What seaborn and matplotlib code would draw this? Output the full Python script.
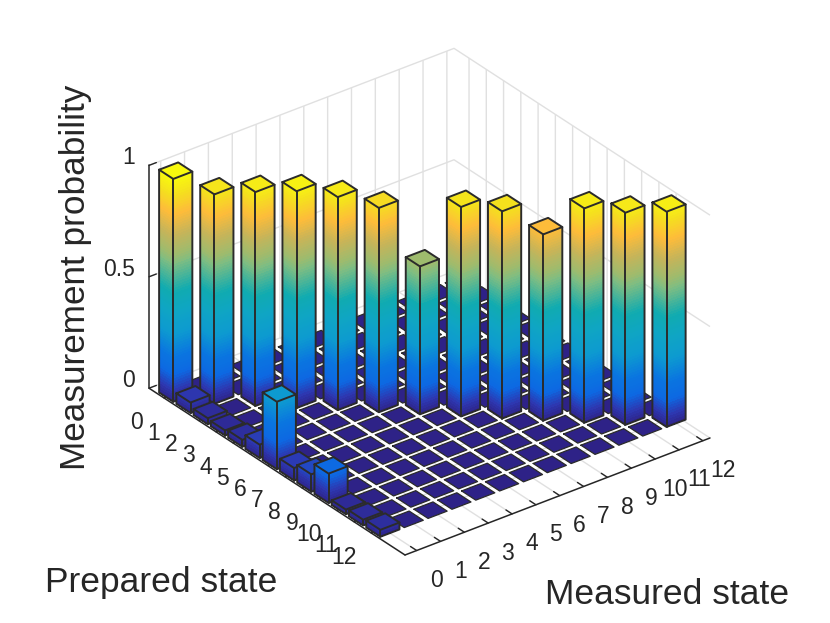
import numpy as np
import matplotlib
matplotlib.use("Agg")
import matplotlib.pyplot as plt
from matplotlib.colors import LinearSegmentedColormap
from mpl_toolkits.mplot3d import proj3d
from mpl_toolkits.mplot3d.art3d import Poly3DCollection
import seaborn as sns

states = list(range(13))
diagonal = [1.0, 0.94, 0.96, 0.973, 0.956, 0.917, 0.664, 0.94, 0.93, 0.836, 0.962, 0.952, 0.966]
measured_zero = [1.0, 0.047, 0.027, 0.023, 0.031, 0.06, 0.303, 0.056, 0.078, 0.132, 0.021, 0.026, 0.031]
z_ticks = [0, 0.5, 1]
z_tick_labels = ["0", "0.5", "1"]
parula_pos = [0, .05, .12, .2, .3, .4, .49, .62, .66, .75, .84, .93, 1]
parula_hex = ["#2E2287", "#2D37B0", "#0D68E2", "#0A75E0", "#0D9AD0", "#0FA5C4", "#10ABB0",
              "#7FBD82", "#9DBB6E", "#C8B458", "#FDBC3A", "#F5E01E", "#F8F90E"]

sns.set_theme(style="white", rc={"font.family": ["Liberation Sans", "DejaVu Sans"]})
plt.rcParams["font.family"] = ["Liberation Sans", "DejaVu Sans"]
INK = "#262626"
cmap = LinearSegmentedColormap.from_list("parula_like", list(zip(parula_pos, parula_hex)))

heights = np.zeros((13, 13))
heights[:, 0] = measured_zero
heights[states, states] = diagonal

XMIN, XMAX, YMIN, YMAX = -0.49, 12.3, -0.87, 13.96

fig = plt.figure(figsize=(8.3, 6.23), dpi=100)
side = 623 / 830
ax = fig.add_axes([0, 0, side, 1], projection="3d", proj_type="ortho", computed_zorder=False)
ax.view_init(elev=30, azim=-127.5)
ax.set_xlim(XMIN, XMAX, view_margin=0)
ax.set_ylim(YMAX, YMIN, view_margin=0)
ax.set_zlim(0, 1, view_margin=0)
aspect = (384, 420, 257)
ax.set_box_aspect(aspect, zoom=1)


def px(x, y, z):
    X, Y, _ = proj3d.proj_transform(x, y, z, ax.get_proj())
    return ax.transData.transform((X, Y))


# scale and place the box so that its floor corners land where the reference has them
ax.apply_aspect()
span = (px(XMAX, YMAX, 0) - px(XMIN, YMAX, 0))[0]
ax.set_box_aspect(aspect, zoom=305 / span)
ax.apply_aspect()
corner = px(XMIN, YMAX, 0)
dx = (405 - corner[0]) / 830
dy = ((623 - 555) - corner[1]) / 623
ax.set_position([dx, dy, side, 1])

ax.xaxis.set_pane_color("white")
ax.yaxis.set_pane_color("white")
ax.zaxis.set_pane_color("white")
for a in (ax.xaxis, ax.yaxis, ax.zaxis):
    a.pane.set_edgecolor("none")
    a._axinfo["grid"].update(color="#e0e0e0", linewidth=1.0)
    a._axinfo["tick"].update(inward_factor=0.0, outward_factor=0.3, linewidth={True: 1.0, False: 0.5})
    a._axinfo["axisline"]["color"] = INK
    a.line.set_color(INK)
    a.line.set_linewidth(1.1)
ax.set_xticks(states)
ax.set_yticks(states)
ax.set_zticks(z_ticks)
ax.set_zticklabels(z_tick_labels)
ax.tick_params(axis="x", labelsize=16.5, colors=INK, pad=10)
ax.tick_params(axis="y", labelsize=16.5, colors=INK, pad=13)
ax.tick_params(axis="z", labelsize=16.5, colors=INK, pad=-2)
for label in ax.get_xticklabels():
    label.set_va("center")
for label in ax.get_yticklabels():
    label.set_va("baseline")
for label in ax.get_zticklabels():
    label.set_va("baseline")
    label.set_ha("right")
ax.grid(True)

wx, wy = 0.40, 0.41
EDGE = "#2b2b2b"
order = 10
for m in states[::-1]:
    for p in states:
        h = heights[p, m]
        x0, x1, y0, y1 = m - wx, m + wx, p - wy, p + wy
        top = [(x0, y0, h), (x1, y0, h), (x1, y1, h), (x0, y1, h)]
        if h > 0:
            faces, colors = [], []
            edges_z = np.linspace(0, h, int(np.ceil(h / 0.012)) + 1)
            for a, b in zip(edges_z[:-1], edges_z[1:]):
                c = cmap((a + b) / 2)
                faces.append([(x0, y0, a), (x0, y1, a), (x0, y1, b), (x0, y0, b)])
                colors.append(c)
                faces.append([(x0, y1, a), (x1, y1, a), (x1, y1, b), (x0, y1, b)])
                colors.append(c)
            pc = Poly3DCollection(faces, facecolors=colors, edgecolors="none", linewidths=0,
                                  antialiaseds=False, zorder=order)
            ax.add_collection3d(pc, autolim=False)
            order += 1
        pc = Poly3DCollection([top], facecolors=[cmap(h)], edgecolors="none", linewidths=0, zorder=order)
        ax.add_collection3d(pc, autolim=False)
        order += 1
        lw = 1.4 if h > 0 else 0.9
        ax.plot([x0, x1, x1, x0, x0], [y0, y0, y1, y1, y0], [h] * 5, color=EDGE, lw=lw, zorder=order,
                solid_joinstyle="round")
        if h > 0:
            ax.plot([x0, x0, x0, x1, x1], [y0, y0, y1, y1, y1], [h, 0, 0, 0, h], color=EDGE, lw=lw, zorder=order)
            ax.plot([x0, x0], [y1, y1], [0, h], color=EDGE, lw=lw, zorder=order)
        order += 1

fig.text(161 / 830, 1 - 582.5 / 623, "Prepared state", fontsize=25.5, color=INK, ha="center", va="center")
fig.text(667 / 830, 1 - 594 / 623, "Measured state", fontsize=25.5, color=INK, ha="center", va="center")
fig.text(76 / 830, 1 - 277 / 623, "Measurement probability", fontsize=25.3, color=INK, ha="center", va="center",
         rotation=90)
fig.savefig("out.png", dpi=100)
